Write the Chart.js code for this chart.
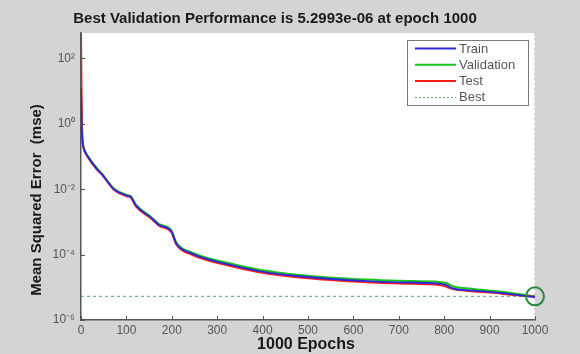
<!DOCTYPE html>
<html>
<head>
<meta charset="utf-8">
<title>Best Validation Performance</title>
<script src="https://cdn.jsdelivr.net/npm/chart.js"></script>
<style>
  html, body { margin: 0; padding: 0; background: #d4d4d4; }
  canvas { display: block; }
</style>
</head>
<body>
<canvas id="perfChart" width="580" height="354"></canvas>
<script>
// values (mse per epoch)
const epochs = [0, 1, 2, 3, 5, 7, 15, 35, 46, 73, 101, 110, 121, 155, 172, 199, 210, 245, 320, 393, 481, 629, 700, 790, 805, 819, 860, 923, 960, 1000];
const trainMse = [12.6, 2.0, 0.63, 0.32, 0.2, 0.16, 0.1, 0.042, 0.029, 0.0099, 0.0064, 0.0058, 0.0032, 0.00133, 8.1e-4, 5.2e-4, 2.2e-4, 1.07e-4, 5.2e-5, 3.15e-5, 2.18e-5, 1.55e-5, 1.42e-5, 1.3e-5, 1.17e-5, 9.3e-6, 8.0e-6, 6.8e-6, 5.9e-6, 5.0e-6];
const validationMse = [4.0, 1.6, 0.56, 0.32, 0.2, 0.165, 0.104, 0.044, 0.030, 0.0103, 0.0067, 0.0061, 0.0034, 0.0014, 8.6e-4, 5.5e-4, 2.35e-4, 1.15e-4, 5.7e-5, 3.45e-5, 2.4e-5, 1.72e-5, 1.58e-5, 1.46e-5, 1.35e-5, 1.08e-5, 9.0e-6, 7.4e-6, 6.3e-6, 5.2993e-6];
const testMse = [800, 16, 1.26, 0.4, 0.21, 0.155, 0.096, 0.04, 0.028, 0.0095, 0.0061, 0.0055, 0.003, 0.00125, 7.6e-4, 4.9e-4, 2.05e-4, 9.9e-5, 4.8e-5, 2.9e-5, 2.0e-5, 1.43e-5, 1.3e-5, 1.17e-5, 1.04e-5, 8.8e-6, 7.6e-6, 6.5e-6, 5.7e-6, 5.1e-6];
const bestEpoch = 1000;
const bestPerf = 5.2993e-6;

const xTicks = [0, 100, 200, 300, 400, 500, 600, 700, 800, 900, 1000];
const yTicks = [1e2, 1, 1e-2, 1e-4, 1e-6];
const yTickLabels = ['10\u00b2', '10\u2070', '10\u207b\u00b2', '10\u207b\u2074', '10\u207b\u2076'];
const yMin = 1e-6;
const yMax = 600;

const titleText = 'Best Validation Performance is 5.2993e-06 at epoch 1000';
const xLabel = '1000 Epochs';
const yLabel = 'Mean Squared Error  (mse)';

const FONT = '"Liberation Sans", Arial, Helvetica, sans-serif';

const toPoints = ys => epochs.map((e, i) => ({ x: e, y: ys[i] }));

// legend entries (label, colour, dashed)
const legendItems = [
  { label: 'Train', color: '#2a2ad8', dash: [] },
  { label: 'Validation', color: '#18c818', dash: [] },
  { label: 'Test', color: '#ff1a1a', dash: [] },
  { label: 'Best', color: '#5aa87a', dash: [2, 2] }
];

const decorPlugin = {
  id: 'decor',
  beforeDraw(chart) {
    const { ctx, chartArea: a } = chart;
    ctx.save();
    ctx.fillStyle = '#ffffff';
    ctx.fillRect(a.left, a.top, a.right - a.left, a.bottom - a.top);
    ctx.restore();
  },
  afterDraw(chart) {
    const { ctx, chartArea: a, scales } = chart;
    ctx.save();

    // inward tick marks, matlab style
    ctx.strokeStyle = '#555';
    ctx.lineWidth = 1;
    xTicks.forEach(v => {
      const px = Math.round(scales.x.getPixelForValue(v)) + 0.5;
      ctx.beginPath();
      ctx.moveTo(px, a.bottom);
      ctx.lineTo(px, a.bottom - 4);
      ctx.stroke();
    });
    yTicks.forEach(v => {
      const py = Math.round(scales.y.getPixelForValue(v)) + 0.5;
      ctx.beginPath();
      ctx.moveTo(a.left, py);
      ctx.lineTo(a.left + 4, py);
      ctx.stroke();
    });

    // title and axis labels
    ctx.fillStyle = '#1a1a1a';
    ctx.textAlign = 'center';
    ctx.textBaseline = 'middle';
    ctx.font = 'bold 15px ' + FONT;
    ctx.fillText(titleText, 275, 19);
    ctx.font = 'bold 16px ' + FONT;
    ctx.fillText(xLabel, 306, 345);
    ctx.save();
    ctx.translate(37, 200);
    ctx.rotate(-Math.PI / 2);
    ctx.font = 'bold 15px ' + FONT;
    ctx.fillText(yLabel, 0, 0);
    ctx.restore();

    // legend box
    ctx.fillStyle = '#ffffff';
    ctx.fillRect(407.5, 40.5, 121, 65);
    ctx.strokeStyle = '#7a7a7a';
    ctx.lineWidth = 1;
    ctx.strokeRect(407.5, 40.5, 121, 65);
    ctx.font = '13px ' + FONT;
    ctx.textAlign = 'left';
    legendItems.forEach((item, i) => {
      const y = 48.5 + i * 16.3;
      ctx.strokeStyle = item.color;
      ctx.lineWidth = item.dash.length ? 1 : 2;
      ctx.setLineDash(item.dash);
      ctx.beginPath();
      ctx.moveTo(415, y);
      ctx.lineTo(456, y);
      ctx.stroke();
      ctx.setLineDash([]);
      ctx.fillStyle = '#555';
      ctx.fillText(item.label, 459, y + 0.5);
    });

    ctx.restore();
  }
};

new Chart(document.getElementById('perfChart'), {
  type: 'line',
  data: {
    datasets: [
      {
        label: 'Train',
        data: toPoints(trainMse),
        borderColor: legendItems[0].color,
        borderWidth: 1.8,
        pointRadius: 0,
        cubicInterpolationMode: 'monotone',
        order: 1
      },
      {
        label: 'Validation',
        data: toPoints(validationMse),
        borderColor: legendItems[1].color,
        borderWidth: 2,
        pointRadius: 0,
        cubicInterpolationMode: 'monotone',
        order: 3
      },
      {
        label: 'Test',
        data: toPoints(testMse),
        borderColor: legendItems[2].color,
        borderWidth: 2,
        pointRadius: 0,
        cubicInterpolationMode: 'monotone',
        order: 2
      },
      {
        label: 'Best',
        data: [{ x: 0, y: bestPerf }, { x: bestEpoch, y: bestPerf }],
        borderColor: legendItems[3].color,
        borderWidth: 1,
        borderDash: [3, 3],
        pointRadius: 0,
        order: 4
      },
      {
        label: 'Best epoch',
        data: [{ x: bestEpoch, y: yMin }, { x: bestEpoch, y: yMax }],
        borderColor: '#8fa89a',
        borderWidth: 1,
        borderDash: [2, 3],
        pointRadius: 0,
        order: 5
      },
      {
        label: 'Best point',
        type: 'scatter',
        data: [{ x: bestEpoch, y: bestPerf }],
        pointRadius: 9,
        pointBorderWidth: 2,
        pointBorderColor: '#2c8a40',
        pointBackgroundColor: 'rgba(0,0,0,0)',
        clip: false,
        order: 0
      }
    ]
  },
  options: {
    responsive: false,
    animation: false,
    layout: { padding: { left: 0, right: 45, top: 33, bottom: 0 } },
    plugins: {
      legend: { display: false },
      title: { display: false },
      tooltip: { enabled: false }
    },
    scales: {
      x: {
        type: 'linear',
        min: 0,
        max: 1000,
        afterFit: s => { s.height = 34; },
        afterBuildTicks: s => { s.ticks = xTicks.map(v => ({ value: v })); },
        grid: { display: false, drawTicks: false },
        border: { display: true, color: '#555', width: 1.5 },
        ticks: {
          padding: 3,
          color: '#555',
          font: { family: FONT, size: 12 },
          maxRotation: 0,
          autoSkip: false,
          callback: v => String(v)
        }
      },
      y: {
        type: 'logarithmic',
        min: yMin,
        max: yMax,
        afterFit: s => { s.width = 81; },
        afterBuildTicks: s => { s.ticks = yTicks.map(v => ({ value: v })); },
        grid: { display: false, drawTicks: false },
        border: { display: true, color: '#555', width: 1.5 },
        ticks: {
          padding: 6,
          color: '#555',
          font: { family: FONT, size: 12 },
          autoSkip: false,
          callback: (v) => {
            const i = yTicks.findIndex(t => Math.abs(Math.log10(t) - Math.log10(v)) < 1e-6);
            return i >= 0 ? yTickLabels[i] : '';
          }
        }
      }
    }
  },
  plugins: [decorPlugin]
});
</script>
</body>
</html>
